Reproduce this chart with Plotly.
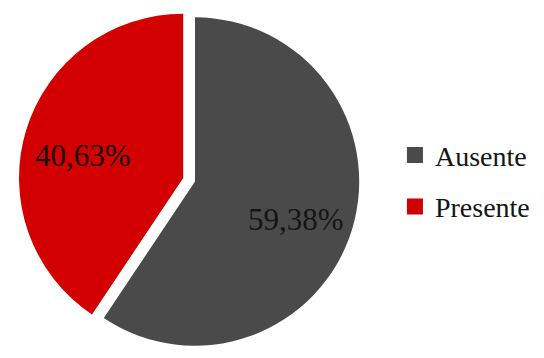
import math
import plotly.graph_objects as go

# Share of cases by status
labels = ["Ausente", "Presente"]
values = [59.38, 40.63]
colors = ["#4a4a4a", "#d20000"]
pulls = [0, 0.075]

text_labels = [f"{v:.2f}%".replace(".", ",") for v in values]

W, H = 544, 358
M = dict(l=0, r=0, t=5, b=0)
dom_x = [0, 390 / W]
dom_y = [0, 1]

fig = go.Figure()

fig.add_trace(go.Pie(
    labels=labels,
    values=values,
    textinfo="none",
    marker=dict(colors=colors, line=dict(width=0)),
    pull=pulls,
    sort=False,
    direction="clockwise",
    rotation=0,
    showlegend=False,
    hoverinfo="label+percent",
    domain=dict(x=dom_x, y=dom_y),
))

# Value labels placed along each slice's mid-angle, using the same
# pie geometry that plotly computes from the domain and pull
pw = W - M["l"] - M["r"]
ph = H - M["t"] - M["b"]
box_w = pw * (dom_x[1] - dom_x[0])
box_h = ph * (dom_y[1] - dom_y[0])
radius = min(box_w, box_h) / (2 * (1 + max(pulls)))
cx = M["l"] + pw * (dom_x[0] + dom_x[1]) / 2
cy = M["t"] + ph * (1 - (dom_y[0] + dom_y[1]) / 2)
total = sum(values)
start = 0.0
for txt, v, p in zip(text_labels, values, pulls):
    mid = 2 * math.pi * (start + v / 2) / total
    start += v
    sx, sy = math.sin(mid), -math.cos(mid)
    px = cx + (p + 0.64) * radius * sx
    py = cy + (p + 0.64) * radius * sy
    fig.add_annotation(
        x=(px - M["l"]) / pw, y=(H - M["b"] - py) / ph,
        xref="paper", yref="paper",
        text=txt, showarrow=False,
        xanchor="center", yanchor="middle", yshift=-8,
        font=dict(family="Liberation Serif", size=31, color="#151515"),
    )

# Legend entries with square swatches, one group each for spacing
for name, col in zip(labels, colors):
    fig.add_trace(go.Scatter(
        x=[None], y=[None],
        mode="markers",
        name=name,
        legendgroup=name,
        marker=dict(symbol="square", size=18, color=col),
        hoverinfo="skip",
    ))

fig.update_layout(
    width=W,
    height=H,
    margin=M,
    paper_bgcolor="white",
    plot_bgcolor="white",
    xaxis=dict(visible=False),
    yaxis=dict(visible=False),
    legend=dict(
        x=0.726, y=0.502,
        xanchor="left", yanchor="middle",
        font=dict(family="Liberation Serif", size=28, color="#151515"),
        tracegroupgap=12,
        itemsizing="trace",
        bgcolor="rgba(0,0,0,0)",
    ),
)

fig.write_html("out.html")
